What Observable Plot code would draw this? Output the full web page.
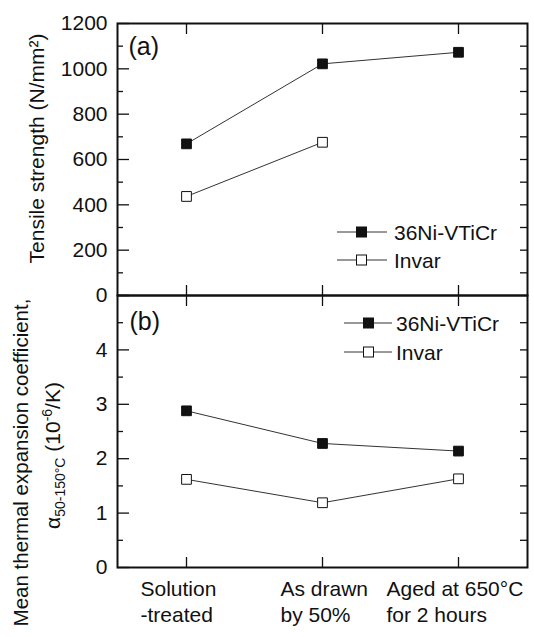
<!DOCTYPE html>
<html><head><meta charset="utf-8">
<script src="https://cdn.jsdelivr.net/npm/d3@7"></script>
<script src="https://cdn.jsdelivr.net/npm/@observablehq/plot@0.6"></script>
<style>
body{margin:0;background:#fff;}
#chart{position:relative;width:534px;height:637px;overflow:hidden;font-family:"Liberation Sans",Arial,sans-serif;}
#chart svg{position:absolute;left:0;top:0;}
</style></head><body><div id="chart"></div>
<script>
// ---- data ----
const categories = ["Solution-treated", "As drawn by 50%", "Aged at 650°C for 2 hours"];
const categoryLabels = ["Solution\n-treated", "As drawn\nby 50%", "Aged at 650°C\nfor 2 hours"];
const seriesNames = ["36Ni-VTiCr", "Invar"];
const tensileNi = [669, 1022, 1073];
const tensileInvar = [437, 676];
const cteNi = [2.88, 2.28, 2.14];
const cteInvar = [1.62, 1.19, 1.63];
const tensileTicks = [0, 200, 400, 600, 800, 1000, 1200];
const cteTicks = [0, 1, 2, 3, 4];

const rows = (vals, s) => vals.map((v, i) => ({cat: categories[i], series: s, value: v}));
const tensNi = rows(tensileNi, seriesNames[0]);
const tensInv = rows(tensileInvar, seriesNames[1]);
const cNi = rows(cteNi, seriesNames[0]);
const cInv = rows(cteInvar, seriesNames[1]);

const FONT = "Liberation Sans, Arial, sans-serif";
const ink = "#111";
const lineCol = "#333";
const noText = () => "";
const plain = d => String(d);
const range = (a, b, s) => d3.range(a, b + s / 2, s);

function panelMarks(opts) {
  const {majors, minors, rightTicks, labelTicks} = opts;
  return [
    Plot.axisY({ticks: labelTicks, tickSize: 0, tickPadding: 10, fontSize: 21, label: null, tickFormat: plain}),
    Plot.axisY({ticks: majors, tickSize: 12, dx: 12, tickFormat: noText, label: null, strokeWidth: 1.3}),
    Plot.axisY({ticks: minors, tickSize: 6, dx: 6, tickFormat: noText, label: null, strokeWidth: 1.3}),
    Plot.axisY({anchor: "right", ticks: rightTicks, tickSize: 8, dx: -8, tickFormat: noText, label: null, strokeWidth: 1.3}),
    Plot.axisX({anchor: "top", tickSize: 10, dy: 10, tickFormat: noText, label: null, strokeWidth: 1.3}),
    Plot.axisX({anchor: "bottom", tickSize: 10, dy: -10, tickFormat: noText, label: null, strokeWidth: 1.3}),
    Plot.frame({stroke: ink, strokeWidth: 2})
  ];
}

function dataMarks(ni, inv) {
  return [
    Plot.line(ni, {x: "cat", y: "value", stroke: lineCol, strokeWidth: 1}),
    Plot.line(inv, {x: "cat", y: "value", stroke: lineCol, strokeWidth: 1}),
    Plot.dot(ni, {x: "cat", y: "value", symbol: "square", r: 5.5, fill: ink, stroke: ink, strokeWidth: 1}),
    Plot.dot(inv, {x: "cat", y: "value", symbol: "square", r: 5.5, fill: "#fff", stroke: ink, strokeWidth: 1})
  ];
}

const xScale = {type: "point", domain: categories, padding: 0.5};
const style = {fontFamily: FONT, fontSize: "21px", background: "transparent", overflow: "visible", color: ink};

const plotA = Plot.plot({
  width: 534, height: 300,
  marginTop: 23, marginBottom: 5, marginLeft: 117, marginRight: 7,
  x: xScale,
  y: {domain: [0, 1200]},
  style,
  marks: [
    ...panelMarks({majors: tensileTicks, minors: range(100, 1100, 200), rightTicks: range(100, 1100, 100), labelTicks: tensileTicks}),
    ...dataMarks(tensNi, tensInv),
    Plot.text(["(a)"], {text: d => d, frameAnchor: "top-left", textAnchor: "start", lineAnchor: "top", dx: 11, dy: 14, fontSize: 25, fill: ink}),
    Plot.text(["Tensile strength (N/mm²)"], {text: d => d, frameAnchor: "left", textAnchor: "middle", rotate: -90, dx: -80, dy: -11, fontSize: 21, fill: ink})
  ]
});

const plotB = Plot.plot({
  width: 534, height: 637,
  marginTop: 295, marginBottom: 70, marginLeft: 117, marginRight: 7,
  x: xScale,
  y: {domain: [0, 5]},
  style,
  marks: [
    ...panelMarks({majors: range(0, 5, 1), minors: range(0.5, 4.5, 1), rightTicks: range(0.5, 4.5, 0.5), labelTicks: cteTicks}),
    ...dataMarks(cNi, cInv),
    Plot.text(["(b)"], {text: d => d, frameAnchor: "top-left", textAnchor: "start", lineAnchor: "top", dx: 12, dy: 17, fontSize: 25, fill: ink}),
    Plot.text(["Mean thermal expansion coefficient,"], {text: d => d, frameAnchor: "left", textAnchor: "middle", rotate: -90, dx: -96, dy: 31, fontSize: 20.5, fill: ink}),
    Plot.text(["ALPHA_LABEL"], {text: d => d, frameAnchor: "left", textAnchor: "middle", rotate: -90, dx: -64, dy: 24, fontSize: 21, fill: ink}),
    ...[-46, -42, -72].map((dx, i) =>
      Plot.text([categories[i]], {x: d => d, text: () => categoryLabels[i], frameAnchor: "bottom", textAnchor: "start", lineAnchor: "top", lineHeight: 1.24, dx, dy: 10, fontSize: 21, fill: ink}))
  ]
});

const chart = document.getElementById("chart");
chart.appendChild(plotA);
chart.appendChild(plotB);

// subscript / superscript label
d3.select(plotB).selectAll("text").filter(function() { return this.textContent === "ALPHA_LABEL"; })
  .each(function() {
    const t = d3.select(this);
    t.text("");
    t.append("tspan").text("α");
    t.append("tspan").attr("font-size", 14).attr("dy", 5).text("50-150°C");
    t.append("tspan").attr("dy", -5).text(" (10");
    t.append("tspan").attr("font-size", 14).attr("dy", -8).text("-6");
    t.append("tspan").attr("dy", 8).text("/K)");
  });

// legends
const overlay = d3.select(chart).append("svg").attr("width", 534).attr("height", 637)
  .style("font-family", FONT).style("pointer-events", "none");
function legend(x1, x2, sx, tx, ys) {
  seriesNames.forEach((name, i) => {
    const y = ys[i];
    overlay.append("line").attr("x1", x1).attr("x2", x2).attr("y1", y).attr("y2", y)
      .attr("stroke", lineCol).attr("stroke-width", 1);
    overlay.append("rect").attr("x", sx - 5).attr("y", y - 5).attr("width", 10).attr("height", 10)
      .attr("fill", i === 0 ? ink : "#fff").attr("stroke", ink).attr("stroke-width", 1);
    overlay.append("text").attr("x", tx).attr("y", y).attr("dy", "0.36em")
      .attr("font-size", 21).attr("fill", ink).text(name);
  });
}
legend(337, 387, 361.5, 394, [232, 260]);
legend(344, 392, 368.5, 396, [323, 352]);
</script>
</body></html>
